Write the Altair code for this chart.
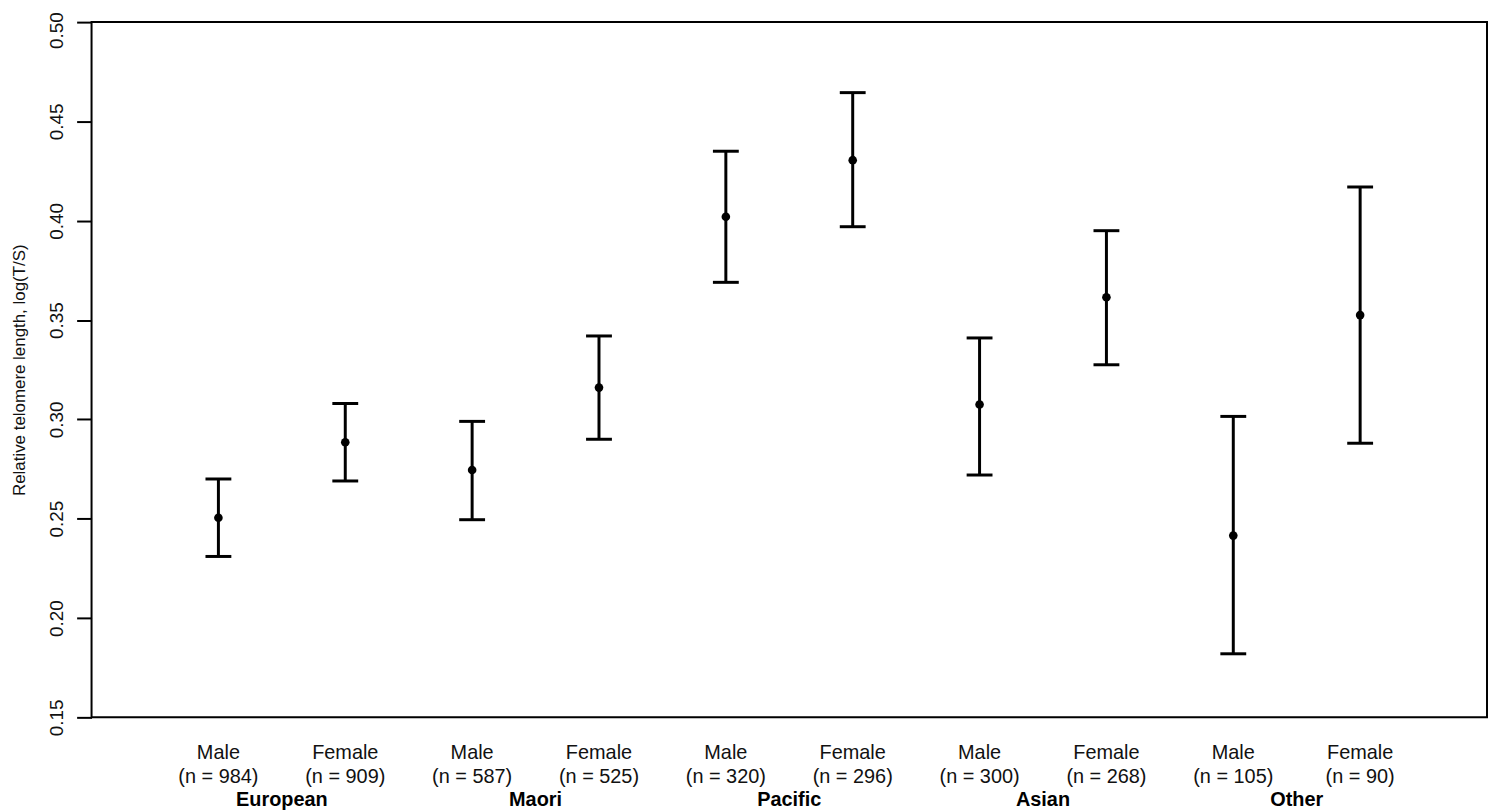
import altair as alt
import pandas as pd

groups = ["European", "European", "Maori", "Maori", "Pacific", "Pacific", "Asian", "Asian", "Other", "Other"]
sexes = ["Male", "Female"] * 5
ns = [984, 909, 587, 525, 320, 296, 300, 268, 105, 90]
means = [0.2505, 0.2885, 0.2745, 0.316, 0.402, 0.4305, 0.3075, 0.3615, 0.2415, 0.3525]
lowers = [0.231, 0.269, 0.2495, 0.290, 0.369, 0.397, 0.272, 0.3275, 0.182, 0.288]
uppers = [0.270, 0.308, 0.299, 0.342, 0.435, 0.4645, 0.341, 0.395, 0.3015, 0.417]
group_names = ["European", "Maori", "Pacific", "Asian", "Other"]
y_ticks = [0.15, 0.20, 0.25, 0.30, 0.35, 0.40, 0.45, 0.50]

df = pd.DataFrame({
    "pos": list(range(1, 11)),
    "group": groups,
    "sex": sexes,
    "nlab": [f"(n = {n})" for n in ns],
    "mean": means,
    "lo": lowers,
    "hi": uppers,
})
gdf = pd.DataFrame({"gpos": [1.5, 3.5, 5.5, 7.5, 9.5], "gname": group_names})

W, H = 1403, 699
FONT = "Liberation Sans"

xs = alt.Scale(domain=[0, 11], nice=False, zero=False)
ys = alt.Scale(domain=[0.15, 0.50], nice=False, zero=False)

x_enc = alt.X("pos:Q", scale=xs, axis=None)

yaxis = alt.Axis(
    values=y_ticks, format=".2f", title="Relative telomere length, log(T/S)",
    labelAngle=-90, labelAlign="center", labelBaseline="bottom",
    labelFont=FONT, labelFontSize=19, labelColor="#111", labelPadding=10,
    labelOffset={"condition": {"test": "datum.value >= 0.5", "value": 8}, "value": 0},
    tickSize=15, tickWidth=2, tickColor="black", domain=False, grid=False,
    titleFont=FONT, titleFontSize=17, titleFontWeight="normal", titleColor="#111",
    titlePadding=19,
)

base = alt.Chart(df)

rules = base.mark_rule(color="black", strokeWidth=3).encode(
    x=x_enc, y=alt.Y("lo:Q", scale=ys, axis=yaxis), y2="hi:Q"
)
cap_lo = base.mark_tick(color="black", orient="horizontal", size=26, thickness=3, opacity=1).encode(
    x=x_enc, y=alt.Y("lo:Q", scale=ys)
)
cap_hi = base.mark_tick(color="black", orient="horizontal", size=26, thickness=3, opacity=1).encode(
    x=x_enc, y=alt.Y("hi:Q", scale=ys)
)
pts = base.mark_point(filled=True, color="black", size=75, opacity=1).encode(
    x=x_enc, y=alt.Y("mean:Q", scale=ys)
)
sex_txt = base.mark_text(font=FONT, fontSize=20, color="#111", baseline="alphabetic").encode(
    x=x_enc, y=alt.value(H + 42), text="sex:N"
)
n_txt = base.mark_text(font=FONT, fontSize=20, color="#111", baseline="alphabetic").encode(
    x=x_enc, y=alt.value(H + 66), text="nlab:N"
)
g_txt = alt.Chart(gdf).mark_text(font=FONT, fontSize=20, fontWeight="bold", color="black", baseline="alphabetic").encode(
    x=alt.X("gpos:Q", scale=xs, axis=None), y=alt.value(H + 89), text="gname:N"
)

chart = alt.layer(rules, cap_lo, cap_hi, pts, sex_txt, n_txt, g_txt).properties(
    width=W, height=H,
    autosize=alt.AutoSizeParams(type="none"),
    padding={"left": 84, "top": 12, "right": 1, "bottom": 100},
).configure(background="white").configure_view(stroke="black", strokeWidth=2)

chart.save("out.html", embed_options={"renderer": "svg", "actions": False})
